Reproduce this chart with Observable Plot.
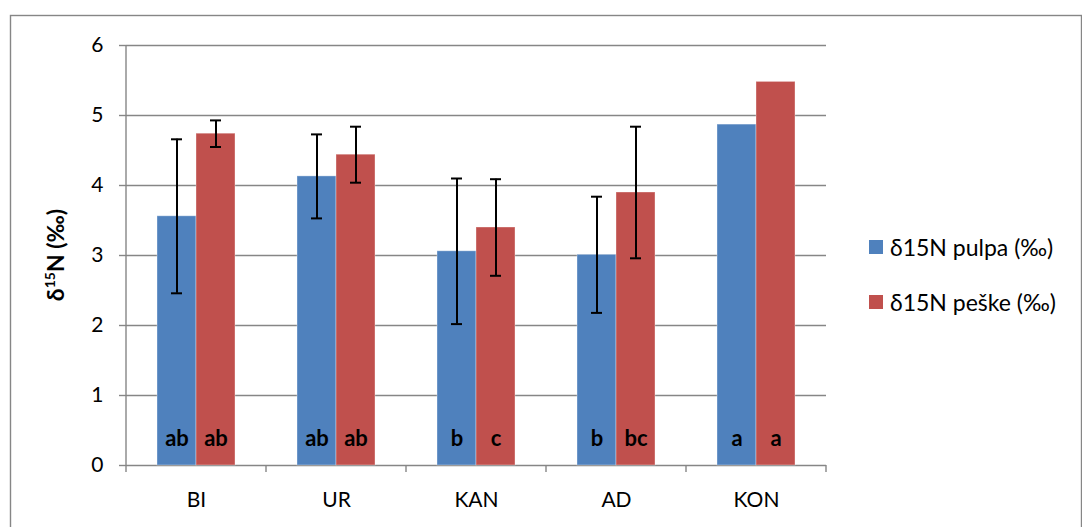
<!DOCTYPE html>
<html>
<head>
<meta charset="utf-8">
<script src="https://cdn.jsdelivr.net/npm/d3@7"></script>
<script src="https://cdn.jsdelivr.net/npm/@observablehq/plot@0.6"></script>
<style>
  html, body { margin: 0; padding: 0; background: #fff; }
  #wrap { position: relative; width: 1082px; height: 527px; overflow: hidden; font-family: Lato, "Open Sans", sans-serif; }
  .leg { position: absolute; left: 869px; display: flex; align-items: center; font-size: 23px; color: #000; white-space: nowrap; }
  .leg .sw { width: 14px; height: 14px; margin-right: 7px; }
</style>
</head>
<body>
<div id="wrap"></div>
<script>
const categories = ["BI", "UR", "KAN", "AD", "KON"];
const seriesNames = ["δ15N pulpa (‰)", "δ15N peške (‰)"];
const seriesColors = ["#4F81BD", "#C0504D"];
const pulpa = [3.56, 4.13, 3.06, 3.01, 4.87];
const peske = [4.74, 4.44, 3.40, 3.90, 5.48];
const pulpaErr = [1.10, 0.60, 1.04, 0.83, null];
const peskeErr = [0.19, 0.40, 0.69, 0.94, null];
const pulpaLetters = ["ab", "ab", "b", "b", "a"];
const peskeLetters = ["ab", "ab", "c", "bc", "a"];
const yTicks = [0, 1, 2, 3, 4, 5, 6];

const rows = [];
categories.forEach((c, i) => {
  rows.push({cat: c, series: seriesNames[0], value: pulpa[i], err: pulpaErr[i], letter: pulpaLetters[i]});
  rows.push({cat: c, series: seriesNames[1], value: peske[i], err: peskeErr[i], letter: peskeLetters[i]});
});
const errRows = rows.filter(d => d.err != null);

const grid = "#868686";

const plot = Plot.plot({
  width: 1082,
  height: 527,
  marginLeft: 124,
  marginRight: 255,
  marginTop: 45,
  marginBottom: 62,
  style: {fontFamily: "Lato, 'Open Sans', sans-serif", fontSize: "21px", color: "#000", background: "transparent", overflow: "visible"},
  fx: {domain: categories, padding: 0, label: null},
  x: {domain: seriesNames, paddingInner: 0, paddingOuter: 0.7575, axis: null},
  y: {domain: [0, 6], label: null},
  color: {domain: seriesNames, range: seriesColors},
  marks: [
    Plot.gridY(yTicks, {stroke: grid, strokeOpacity: 1, strokeWidth: 1.4}),
    Plot.barY(rows, {fx: "cat", x: "series", y: "value", fill: "series", stroke: "#fff", strokeOpacity: 0.35, strokeWidth: 1}),
    Plot.ruleX(errRows, {fx: "cat", x: "series", y1: d => d.value - d.err, y2: d => d.value + d.err, stroke: "#000", strokeWidth: 2}),
    Plot.tickY(errRows, {fx: "cat", x: "series", y: d => d.value - d.err, stroke: "#000", strokeWidth: 2, insetLeft: 14, insetRight: 14}),
    Plot.tickY(errRows, {fx: "cat", x: "series", y: d => d.value + d.err, stroke: "#000", strokeWidth: 2, insetLeft: 14, insetRight: 14}),
    Plot.text(rows, {fx: "cat", x: "series", y: 0, text: "letter", lineAnchor: "bottom", dy: -20, fontWeight: "bold", fontSize: 22, fill: "#000"}),
    Plot.axisY(yTicks, {tickSize: 7, tickPadding: 16, stroke: grid, strokeWidth: 1.4, tickFormat: d => String(d), label: null}),
    Plot.axisFx({anchor: "bottom", tickSize: 0, tickPadding: 27, label: null})
  ]
});

const svg = d3.select(plot);
const fx = plot.scale("fx");
const y = plot.scale("y");
const y0 = y.apply(0), y6 = y.apply(6);
const left = fx.apply(categories[0]);
const step = fx.step;

// y axis line
svg.append("line").attr("x1", left).attr("x2", left).attr("y1", y6).attr("y2", y0)
  .attr("stroke", grid).attr("stroke-width", 1.4);
// x axis boundary ticks
for (let i = 0; i <= categories.length; i++) {
  const xx = left + i * step;
  svg.append("line").attr("x1", xx).attr("x2", xx).attr("y1", y0).attr("y2", y0 + 7)
    .attr("stroke", grid).attr("stroke-width", 1.4);
}
// y axis title with superscript
const t = svg.append("text")
  .attr("transform", `translate(64,${(y0 + y6) / 2}) rotate(-90)`)
  .attr("text-anchor", "middle")
  .attr("font-weight", "bold")
  .attr("font-size", 23)
  .attr("fill", "#000");
t.append("tspan").text("δ");
t.append("tspan").attr("font-size", 14).attr("dy", -9).text("15");
t.append("tspan").attr("dy", 9).text("N (‰)");
// outer chart-area border
svg.insert("rect", ":first-child").attr("x", 10.5).attr("y", 15.5).attr("width", 1071).attr("height", 600)
  .attr("fill", "#fff").attr("stroke", grid).attr("stroke-width", 1.4);

const wrap = document.getElementById("wrap");
wrap.appendChild(plot);
plot.style.position = "absolute";
plot.style.left = "0px";
plot.style.top = "0px";

const legendTops = [233, 288];
seriesNames.forEach((s, i) => {
  const item = document.createElement("div");
  item.className = "leg";
  item.style.top = legendTops[i] + "px";
  const sw = document.createElement("span");
  sw.className = "sw";
  sw.style.background = seriesColors[i];
  const lab = document.createElement("span");
  lab.textContent = s;
  item.appendChild(sw);
  item.appendChild(lab);
  wrap.appendChild(item);
});
</script>
</body>
</html>
